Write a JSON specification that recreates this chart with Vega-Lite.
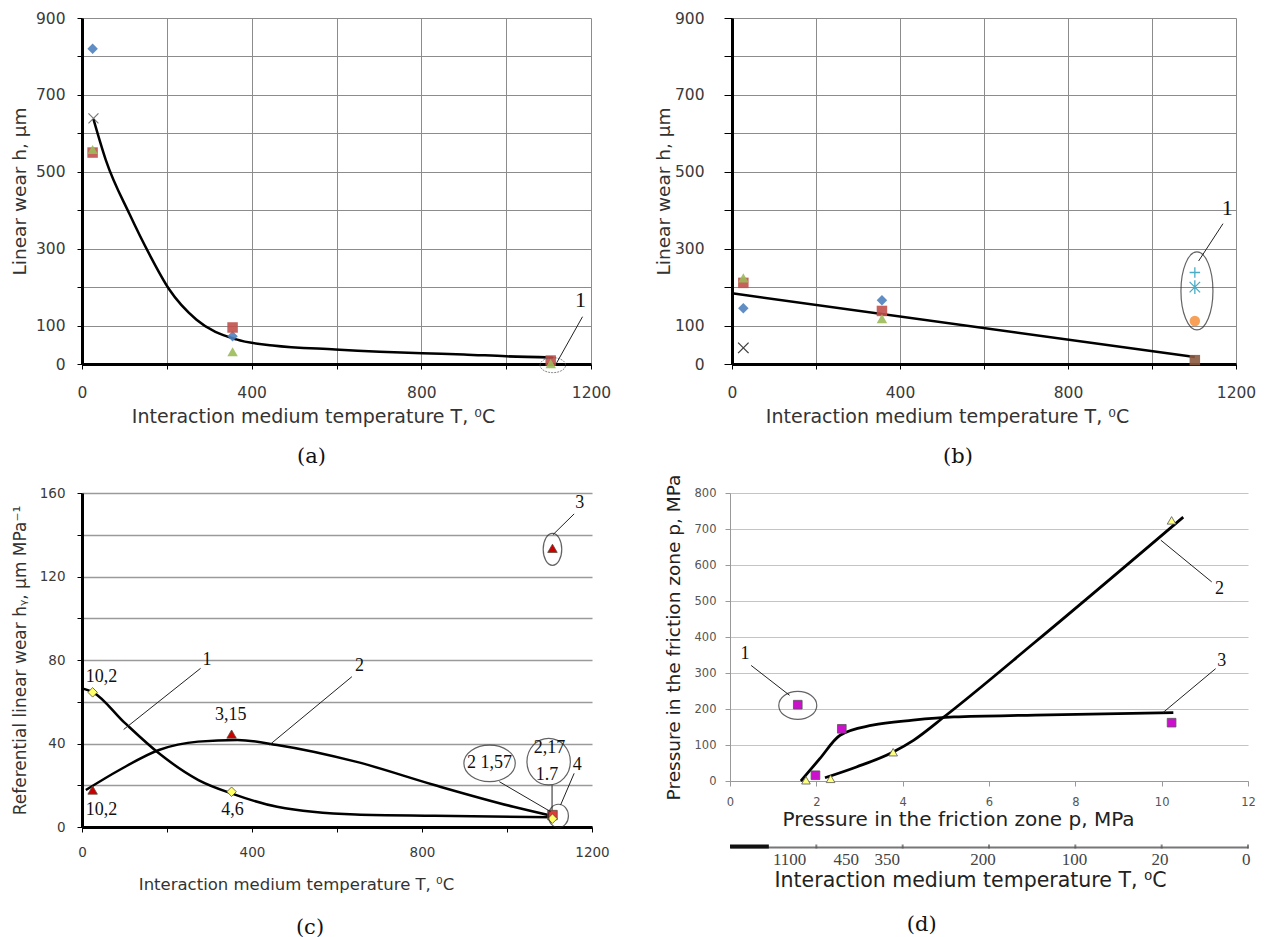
{
"$schema": "https://vega.github.io/schema/vega-lite/v6.json",
"background": "white",
"padding": {"left": 10, "top": 11, "right": 5, "bottom": 0},
"config": {
  "view": {"stroke": null},
  "axis": {"labelFont": "DejaVu Sans", "titleFont": "DejaVu Sans", "titleFontWeight": "normal", "labelColor": "#3a3a3a", "titleColor": "#333333", "labelOverlap": false, "labelFlush": false, "tickColor": "#000000", "domainColor": "#000000"},
  "title": {"font": "DejaVu Serif", "fontSize": 21, "fontWeight": "normal", "color": "#111111", "orient": "bottom", "anchor": "middle"}
},
"datasets": {
  "aCurve": [{"T":27,"h":637},{"T":56,"h":531},{"T":112,"h":390},{"T":159,"h":285},{"T":205,"h":195},{"T":270,"h":115},{"T":364,"h":64},{"T":450,"h":48},{"T":597,"h":38},{"T":802,"h":28},{"T":900,"h":25},{"T":1000,"h":20},{"T":1110,"h":17}],
  "aPts": [{"T":355,"h":72,"s":"dia"},{"T":25,"h":820,"s":"dia"},{"T":25,"h":550,"s":"sq"},{"T":355,"h":95,"s":"sq"},{"T":1105,"h":9,"s":"sq"},{"T":25,"h":558,"s":"tri"},{"T":355,"h":32,"s":"tri"},{"T":1105,"h":1,"s":"tri"}],
  "aX": [{"T":27,"h":639}],
  "aEll": [{"T":1110,"h":-3}],
  "aLead": [{"T":1180,"h":123,"T2":1119,"h2":3}],
  "aNote": [{"T":1175,"h":166,"label":"1"}],
  "bLine": [{"T":0,"h":184},{"T":1102,"h":18}],
  "bPts": [{"T":27,"h":145,"s":"dia"},{"T":357,"h":166,"s":"dia"},{"T":27,"h":211,"s":"sq"},{"T":357,"h":138,"s":"sq"},{"T":27,"h":224,"s":"tri"},{"T":357,"h":118,"s":"tri"},{"T":1102,"h":112,"s":"circ"},{"T":1102,"h":10,"s":"sqb"}],
  "bStr": [{"T":27,"h":42,"s":"x"},{"T":1102,"h":238,"s":"plus"},{"T":1102,"h":200,"s":"star"}],
  "bEll": [{"T":1107,"h":190}],
  "bLead": [{"T":1169,"h":365,"T2":1111,"h2":268}],
  "bNote": [{"T":1179,"h":407,"label":"1"}],
  "cCurve": [{"T":0,"v":66.4,"c":"1"},{"T":26,"v":64.5,"c":"1"},{"T":100,"v":50,"c":"1"},{"T":181,"v":35.3,"c":"1"},{"T":274,"v":22.5,"c":"1"},{"T":353,"v":16,"c":"1"},{"T":459,"v":9.7,"c":"1"},{"T":644,"v":6,"c":"1"},{"T":830,"v":5.4,"c":"1"},{"T":1106,"v":4.7,"c":"1"},
             {"T":9,"v":17.7,"c":"2"},{"T":88,"v":27.3,"c":"2"},{"T":181,"v":36.9,"c":"2"},{"T":273,"v":40.9,"c":"2"},{"T":366,"v":41.7,"c":"2"},{"T":459,"v":39.3,"c":"2"},{"T":644,"v":31.3,"c":"2"},{"T":829,"v":20.1,"c":"2"},{"T":1015,"v":9.7,"c":"2"},{"T":1107,"v":5.3,"c":"2"}],
  "cPts": [{"T":25,"v":64.5,"s":"dia"},{"T":352,"v":16.9,"s":"dia"},{"T":25,"v":17.7,"s":"tri"},{"T":352,"v":44.5,"s":"tri"},{"T":1107,"v":133.5,"s":"tri"},{"T":1107,"v":5.7,"s":"sq"},{"T":1107,"v":4,"s":"dia"}],
  "cEll": [{"T":1107,"v":133,"e":"e3"},{"T":959,"v":30.5,"e":"e157"},{"T":1098,"v":31.3,"e":"e217"},{"T":1121,"v":5.3,"e":"e4"}],
  "cLead": [{"T":279,"v":76,"T2":98,"v2":46.7},{"T":635,"v":72,"T2":441,"v2":39.3},{"T":1158,"v":150,"T2":1108,"v2":140},{"T":1158,"v":25.7,"T2":1126,"v2":10.5},{"T":982,"v":21.7,"T2":1103,"v2":7.3},{"T":1106,"v":20,"T2":1106,"v2":8}],
  "cNote": [{"T":46,"v":72,"label":"10,2"},{"T":46,"v":8,"label":"10,2"},{"T":350,"v":53.6,"label":"3,15"},{"T":354,"v":8,"label":"4,6"},{"T":959,"v":30.5,"label":"2  1,57"},{"T":1100,"v":37.7,"label":"2,17"},{"T":1094,"v":25,"label":"1.7"},{"T":1165,"v":29.7,"label":"4"},{"T":1171,"v":155,"label":"3"},{"T":294,"v":80,"label":"1"},{"T":653,"v":77,"label":"2"}],
  "dCurve": [{"p":2.2,"P":9,"c":"2"},{"p":2.93,"P":39,"c":"2"},{"p":3.77,"P":80,"c":"2"},{"p":4.25,"P":113,"c":"2"},{"p":5.0,"P":182,"c":"2"},{"p":7.07,"P":386,"c":"2"},{"p":10.5,"P":733,"c":"2"},
             {"p":1.64,"P":0,"c":"3"},{"p":2.08,"P":62,"c":"3"},{"p":2.55,"P":127,"c":"3"},{"p":3.3,"P":155,"c":"3"},{"p":4.24,"P":169,"c":"3"},{"p":5.19,"P":178,"c":"3"},{"p":7.07,"P":183,"c":"3"},{"p":10.27,"P":190,"c":"3"}],
  "dPts": [{"p":1.76,"P":2,"s":"tri"},{"p":2.33,"P":6,"s":"tri"},{"p":3.78,"P":80,"s":"tri"},{"p":10.23,"P":724,"s":"tri"},{"p":1.57,"P":212,"s":"sq"},{"p":1.98,"P":16,"s":"sq"},{"p":2.59,"P":145,"s":"sq"},{"p":10.23,"P":162,"s":"sq"}],
  "dEll": [{"p":1.57,"P":210}],
  "dLead": [{"p":0.49,"P":321,"p2":1.38,"P2":238},{"p":11.16,"P":553,"p2":9.98,"P2":669},{"p":11.25,"P":312,"p2":10.03,"P2":190}],
  "dNote": [{"p":0.35,"P":354,"label":"1"},{"p":11.34,"P":534,"label":"2"},{"p":11.39,"P":333,"label":"3"}],
  "dTemp": [{"p":1.37,"t":"1100"},{"p":2.68,"t":"450"},{"p":3.63,"t":"350"},{"p":5.85,"t":"200"},{"p":7.97,"t":"100"},{"p":9.95,"t":"20"},{"p":11.95,"t":"0"}],
  "dTicks": [{"p":2},{"p":4},{"p":6},{"p":8},{"p":10},{"p":12}],
  "dSeg": [{"p":0,"p2":0.9}]
},
"spacing": 7,
"resolve": {"scale": {"color": "independent", "shape": "independent"}},
"vconcat": [
 {"bounds": "flush", "spacing": 141, "resolve": {"scale": {"color": "independent", "shape": "independent"}},
  "hconcat": [
   {"width": 509, "height": 346,
    "title": {"text": "(a)", "offset": 19, "dx": -25},
    "resolve": {"scale": {"color": "independent", "shape": "independent"}},
    "encoding": {
      "x": {"field": "T", "type": "quantitative", "scale": {"domain": [0, 1200], "nice": false, "zero": false},
            "axis": {"title": "Interaction medium temperature T, ⁰C", "titleX": 231, "values": [0,200,400,600,800,1000,1200], "format": "d", "labelExpr": "datum.value % 400 == 0 ? datum.label : ''", "grid": true, "gridColor": "#8c8c8c", "domainWidth": 3, "tickSize": 5, "labelFontSize": 15.5, "labelPadding": 16, "titleFontSize": 19, "titlePadding": 7}},
      "y": {"field": "h", "type": "quantitative", "scale": {"domain": [0, 900], "nice": false},
            "axis": {"title": "Linear wear h, µm", "values": [0,100,200,300,400,500,600,700,800,900], "format": "d", "labelExpr": "datum.value == 0 || datum.value % 200 == 100 ? datum.label : ''", "grid": true, "gridColor": "#8c8c8c", "domainWidth": 3, "tickSize": 5, "labelFontSize": 15.5, "labelPadding": 12, "titleFontSize": 18.5, "titlePadding": 6}}
    },
    "layer": [
      {"data": {"name": "aCurve"}, "mark": {"type": "line", "color": "#000000", "strokeWidth": 2.5, "interpolate": "monotone"}},
      {"data": {"name": "aPts"}, "mark": {"type": "point", "filled": true, "opacity": 0.9, "size": 110},
       "encoding": {"shape": {"field": "s", "type": "nominal", "legend": null, "scale": {"domain": ["dia","sq","tri"], "range": ["diamond","square","triangle-up"]}},
                    "color": {"field": "s", "type": "nominal", "legend": null, "scale": {"domain": ["dia","sq","tri"], "range": ["#4F81BD","#C0504D","#9BBB59"]}}}},
      {"data": {"name": "aX"}, "mark": {"type": "point", "shape": "M-1,-1L1,1M-1,1L1,-1", "filled": false, "color": "#404040", "strokeWidth": 1.2, "size": 100}},
      {"data": {"name": "aEll"}, "mark": {"type": "point", "shape": "M-12.8,0A12.8,7.5,0,1,1,12.8,0A12.8,7.5,0,1,1,-12.8,0Z", "size": 4, "filled": false, "color": "#555555", "strokeWidth": 1, "strokeDash": [2, 1]}},
      {"data": {"name": "aLead"}, "mark": {"type": "rule", "color": "#222222", "strokeWidth": 1}, "encoding": {"x2": {"field": "T2"}, "y2": {"field": "h2"}}},
      {"data": {"name": "aNote"}, "mark": {"type": "text", "font": "Liberation Serif", "fontSize": 22, "color": "#111111"}, "encoding": {"text": {"field": "label"}}}
    ]
   },
   {"width": 504, "height": 346,
    "title": {"text": "(b)", "offset": 19, "dx": -26},
    "resolve": {"scale": {"color": "independent", "shape": "independent"}},
    "encoding": {
      "x": {"field": "T", "type": "quantitative", "scale": {"domain": [0, 1200], "nice": false, "zero": false},
            "axis": {"title": "Interaction medium temperature T, ⁰C", "titleX": 215, "values": [0,200,400,600,800,1000,1200], "format": "d", "labelExpr": "datum.value % 400 == 0 ? datum.label : ''", "grid": true, "gridColor": "#8c8c8c", "domainWidth": 3, "tickSize": 5, "labelFontSize": 15.5, "labelPadding": 16, "titleFontSize": 19, "titlePadding": 7}},
      "y": {"field": "h", "type": "quantitative", "scale": {"domain": [0, 900], "nice": false},
            "axis": {"title": "Linear wear h, µm", "values": [0,100,200,300,400,500,600,700,800,900], "format": "d", "labelExpr": "datum.value == 0 || datum.value % 200 == 100 ? datum.label : ''", "grid": true, "gridColor": "#8c8c8c", "domainWidth": 3, "tickSize": 8, "labelFontSize": 15.5, "labelPadding": 20, "titleFontSize": 18.5, "titlePadding": 1}}
    },
    "layer": [
      {"data": {"name": "bLine"}, "mark": {"type": "line", "color": "#000000", "strokeWidth": 2.5}},
      {"data": {"name": "bPts"}, "mark": {"type": "point", "filled": true, "opacity": 0.9, "size": 110},
       "encoding": {"shape": {"field": "s", "type": "nominal", "legend": null, "scale": {"domain": ["dia","sq","tri","circ","sqb"], "range": ["diamond","square","triangle-up","circle","square"]}},
                    "color": {"field": "s", "type": "nominal", "legend": null, "scale": {"domain": ["dia","sq","tri","circ","sqb"], "range": ["#4F81BD","#C0504D","#9BBB59","#F79646","#8C5A40"]}}}},
      {"data": {"name": "bStr"}, "mark": {"type": "point", "filled": false, "strokeWidth": 1.3, "size": 110, "opacity": 1},
       "encoding": {"shape": {"field": "s", "type": "nominal", "legend": null, "scale": {"domain": ["x","plus","star"], "range": ["M-1,-1L1,1M-1,1L1,-1","M-1,0L1,0M0,-1L0,1","M-1,-1L1,1M-1,1L1,-1M0,-1.3L0,1.3"]}},
                    "color": {"field": "s", "type": "nominal", "legend": null, "scale": {"domain": ["x","plus","star"], "range": ["#404040","#4BACC6","#4BACC6"]}}}},
      {"data": {"name": "bEll"}, "mark": {"type": "point", "shape": "M-16,0A16,39,0,1,1,16,0A16,39,0,1,1,-16,0Z", "size": 4, "filled": false, "color": "#222222", "strokeWidth": 1.2}},
      {"data": {"name": "bLead"}, "mark": {"type": "rule", "color": "#222222", "strokeWidth": 1}, "encoding": {"x2": {"field": "T2"}, "y2": {"field": "h2"}}},
      {"data": {"name": "bNote"}, "mark": {"type": "text", "font": "Liberation Serif", "fontSize": 22, "color": "#111111"}, "encoding": {"text": {"field": "label"}}}
    ]
   }
  ]
 },
 {"bounds": "flush", "spacing": 138, "resolve": {"scale": {"color": "independent", "shape": "independent"}},
  "hconcat": [
   {"width": 510, "height": 334,
    "title": {"text": "(c)", "offset": 24, "dx": -27},
    "resolve": {"scale": {"color": "independent", "shape": "independent"}},
    "encoding": {
      "x": {"field": "T", "type": "quantitative", "scale": {"domain": [0, 1200], "nice": false, "zero": false},
            "axis": {"title": "Interaction medium temperature T, ⁰C", "titleX": 214, "values": [0,200,400,600,800,1000,1200], "format": "d", "labelExpr": "datum.value % 400 == 0 ? datum.label : ''", "grid": false, "domainWidth": 3, "tickSize": 5, "labelFontSize": 13.5, "labelPadding": 13, "titleFontSize": 16.5, "titlePadding": 18}},
      "y": {"field": "v", "type": "quantitative", "scale": {"domain": [0, 160], "nice": false},
            "axis": {"title": "Referential linear wear hᵧ, μm MPa⁻¹", "values": [0,20,40,60,80,100,120,140,160], "format": "d", "labelExpr": "datum.value % 40 == 0 ? datum.label : ''", "grid": true, "gridColor": "#9a9a9a", "gridWidth": 1.5, "domainWidth": 3, "tickSize": 5, "labelFontSize": 13.5, "labelPadding": 12, "titleFontSize": 17, "titlePadding": 10}}
    },
    "layer": [
      {"data": {"name": "cCurve"}, "mark": {"type": "line", "color": "#000000", "strokeWidth": 2.5, "interpolate": "monotone"}, "encoding": {"detail": {"field": "c"}}},
      {"data": {"name": "cPts"}, "mark": {"type": "point", "filled": true, "opacity": 1, "size": 90, "stroke": "#5a4a3a", "strokeWidth": 0.8},
       "encoding": {"shape": {"field": "s", "type": "nominal", "legend": null, "scale": {"domain": ["dia","tri","sq"], "range": ["diamond","triangle-up","square"]}},
                    "color": {"field": "s", "type": "nominal", "legend": null, "scale": {"domain": ["dia","tri","sq"], "range": ["#FFFF66","#CC0000","#E03A3A"]}}}},
      {"data": {"name": "cEll"}, "mark": {"type": "point", "size": 4, "filled": false, "color": "#222222", "strokeWidth": 1.2},
       "encoding": {"shape": {"field": "e", "type": "nominal", "legend": null, "scale": {"domain": ["e3","e157","e217","e4"], "range": ["M-9.3,0A9.3,16,0,1,1,9.3,0A9.3,16,0,1,1,-9.3,0Z","M-25.7,0A25.7,18.3,0,1,1,25.7,0A25.7,18.3,0,1,1,-25.7,0Z","M-21.7,0A21.7,23.3,0,1,1,21.7,0A21.7,23.3,0,1,1,-21.7,0Z","M-10,0A10,11.7,0,1,1,10,0A10,11.7,0,1,1,-10,0Z"]}}}},
      {"data": {"name": "cLead"}, "mark": {"type": "rule", "color": "#222222", "strokeWidth": 1}, "encoding": {"x2": {"field": "T2"}, "y2": {"field": "v2"}}},
      {"data": {"name": "cNote"}, "mark": {"type": "text", "font": "Liberation Serif", "fontSize": 18, "color": "#111111"}, "encoding": {"text": {"field": "label"}}}
    ]
   },
   {"title": {"text": "(d)", "offset": 23, "dx": -38},
    "bounds": "flush",
    "spacing": 65,
    "vconcat": [
     {"width": 518, "height": 288,
      "resolve": {"scale": {"color": "independent", "shape": "independent"}},
      "encoding": {
        "x": {"field": "p", "type": "quantitative", "scale": {"domain": [0, 12], "nice": false, "zero": false},
              "axis": {"title": "Pressure in the friction zone p, MPa", "titleX": 228, "values": [0,2,4,6,8,10,12], "grid": false, "domainColor": "#999999", "tickColor": "#999999", "tickSize": 5, "labelFontSize": 11.5, "labelColor": "#555555", "labelPadding": 10, "titleFontSize": 20, "titleColor": "#222222", "titlePadding": 2}},
        "y": {"field": "P", "type": "quantitative", "scale": {"domain": [0, 800], "nice": false},
              "axis": {"title": "Pressure in the friction zone p, MPa", "values": [0,100,200,300,400,500,600,700,800], "format": "d", "grid": true, "gridColor": "#c4c4c4", "gridWidth": 1.2, "domainColor": "#999999", "tickColor": "#999999", "tickSize": 5, "labelFontSize": 11.5, "labelColor": "#555555", "labelPadding": 9, "titleFontSize": 18.5, "titleColor": "#222222", "titlePadding": 11}}
      },
      "layer": [
        {"data": {"name": "dCurve"}, "mark": {"type": "line", "color": "#000000", "strokeWidth": 2.8, "interpolate": "monotone"}, "encoding": {"detail": {"field": "c"}}},
        {"data": {"name": "dPts"}, "mark": {"type": "point", "filled": true, "opacity": 1, "size": 75, "stroke": "#555555", "strokeWidth": 0.8},
         "encoding": {"shape": {"field": "s", "type": "nominal", "legend": null, "scale": {"domain": ["tri","sq"], "range": ["triangle-up","square"]}},
                      "color": {"field": "s", "type": "nominal", "legend": null, "scale": {"domain": ["tri","sq"], "range": ["#FFFF80","#CC11CC"]}}}},
        {"data": {"name": "dEll"}, "mark": {"type": "point", "shape": "M-19,0A19,14,0,1,1,19,0A19,14,0,1,1,-19,0Z", "size": 4, "filled": false, "color": "#222222", "strokeWidth": 1.2}},
        {"data": {"name": "dLead"}, "mark": {"type": "rule", "color": "#222222", "strokeWidth": 1}, "encoding": {"x2": {"field": "p2"}, "y2": {"field": "P2"}}},
        {"data": {"name": "dNote"}, "mark": {"type": "text", "font": "Liberation Serif", "fontSize": 18, "color": "#111111"}, "encoding": {"text": {"field": "label"}}}
      ]
     },
     {"width": 518, "height": 1,
      "layer": [
        {"data": {"name": "dTemp"}, "mark": {"type": "point", "opacity": 0},
         "encoding": {"x": {"field": "p", "type": "quantitative", "scale": {"domain": [0, 12], "nice": false, "zero": false},
           "axis": {"title": "Interaction medium temperature T, ⁰C", "titleX": 240, "values": [1.37,2.68,3.63,5.85,7.97,9.95,11.95], "labelExpr": "datum.value < 2 ? '1100' : datum.value < 3 ? '450' : datum.value < 4 ? '350' : datum.value < 6 ? '200' : datum.value < 9 ? '100' : datum.value < 11 ? '20' : '0'", "ticks": false, "tickSize": 0, "grid": false, "domain": true, "domainColor": "#777777", "domainWidth": 2, "labelFont": "Liberation Serif", "labelFontSize": 17, "labelColor": "#444444", "labelPadding": 4, "titleFontSize": 20.5, "titleColor": "#222222", "titlePadding": 3}}}},
        {"data": {"name": "dSeg"}, "mark": {"type": "rule", "color": "#111111", "strokeWidth": 4},
         "encoding": {"x": {"field": "p", "type": "quantitative"}, "x2": {"field": "p2"}}},
        {"data": {"name": "dTicks"}, "mark": {"type": "point", "shape": "M0,-1L0,1", "filled": false, "size": 16, "strokeWidth": 2, "color": "#555555"},
         "encoding": {"x": {"field": "p", "type": "quantitative"}}}
      ]
     }
    ]
   }
  ]
 }
]
}
